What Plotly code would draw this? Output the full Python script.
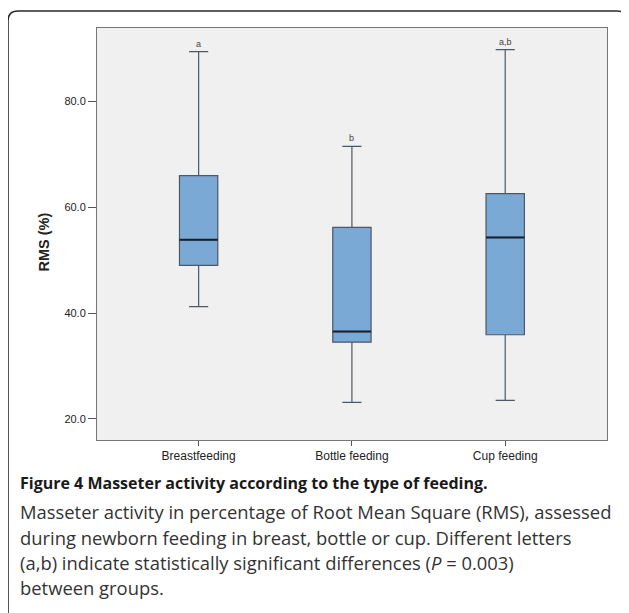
import plotly.graph_objects as go

categories = ["Breastfeeding", "Bottle feeding", "Cup feeding"]
lower_whisker = [41.2, 23.1, 23.5]
q1 = [49.0, 34.5, 35.9]
median = [53.85, 36.5, 54.3]
q3 = [66.0, 56.2, 62.6]
upper_whisker = [89.45, 71.5, 89.8]
letters = ["a", "b", "a,b"]
y_ticks = [20, 40, 60, 80]
y_title = "RMS (%)"

caption_title = "Figure 4 Masseter activity according to the type of feeding."
caption_lines = [
    "Masseter activity in percentage of Root Mean Square (RMS), assessed",
    "during newborn feeding in breast, bottle or cup. Different letters",
    "(a,b) indicate statistically significant differences (<i>P</i> = 0.003)",
    "between groups.",
]

OFF = 8  # page body margin
W, H = 629 - OFF, 613 - OFF
L, T = 97 - OFF, 28 - OFF
R = W - (607 - OFF)
B = H - (440 - OFF)
pw, ph = W - L - R, H - T - B

def px_x(x):
    return (x - OFF - L) / pw

def px_y(y):
    return 1 - (y - OFF - T) / ph

xpos = list(range(len(categories)))
box_w = 0.25

fig = go.Figure()
fig.add_trace(go.Box(
    x=xpos,
    q1=q1, median=median, q3=q3,
    lowerfence=lower_whisker, upperfence=upper_whisker,
    width=box_w,
    whiskerwidth=0.5,
    fillcolor="#7BA9D6",
    line=dict(color="#4d5866", width=1.2),
    boxpoints=False,
    hoverinfo="skip",
    showlegend=False,
))

shapes = []
for i, m in enumerate(median):
    shapes.append(dict(type="line", xref="x", yref="y",
                       x0=xpos[i] - box_w / 2, x1=xpos[i] + box_w / 2,
                       y0=m, y1=m, line=dict(color="#16202c", width=2)))

# outer rounded frame (screen pixels converted to paper coords)
r = 10
x0p, x1p, y0p, y1p = 8, 627, 11, 625
path = (f"M {px_x(x0p)} {px_y(y1p)} L {px_x(x0p)} {px_y(y0p + r)} "
        f"Q {px_x(x0p)} {px_y(y0p)} {px_x(x0p + r)} {px_y(y0p)} "
        f"L {px_x(x1p - r)} {px_y(y0p)} "
        f"Q {px_x(x1p)} {px_y(y0p)} {px_x(x1p)} {px_y(y0p + r)} "
        f"L {px_x(x1p)} {px_y(y1p)}")
shapes.append(dict(type="path", xref="paper", yref="paper", path=path,
                   line=dict(color="#2a2a2a", width=1.6)))

annotations = []
for i, (lab, u) in enumerate(zip(letters, upper_whisker)):
    annotations.append(dict(x=xpos[i], y=u, xref="x", yref="y", text=lab,
                            showarrow=False, yanchor="bottom", yshift=1,
                            font=dict(family="Liberation Sans, Arial", size=9, color="#444444")))

annotations.append(dict(x=px_x(43), y=px_y(242.5), xref="paper", yref="paper",
                        text="<b>" + y_title + "</b>", textangle=-90, showarrow=False,
                        xanchor="center", yanchor="middle",
                        font=dict(family="Liberation Sans, Arial", size=14.5, color="#222222")))

cap_font = "Open Sans, Noto Sans, sans-serif"
annotations.append(dict(x=px_x(18), y=px_y(483), xref="paper", yref="paper",
                        text="<b>" + caption_title + "</b>", showarrow=False,
                        xanchor="left", yanchor="middle",
                        font=dict(family=cap_font, size=16, color="#1a1a1a")))
for k, line in enumerate(caption_lines):
    annotations.append(dict(x=px_x(18), y=px_y(512 + k * 25.3), xref="paper", yref="paper",
                            text=line, showarrow=False, xanchor="left", yanchor="middle",
                            font=dict(family=cap_font, size=18.4, color="#333333")))

fig.update_layout(
    width=W, height=H,
    margin=dict(l=L, r=R, t=T, b=B, autoexpand=False),
    paper_bgcolor="white",
    plot_bgcolor="#f0f0f0",
    shapes=shapes,
    annotations=annotations,
    font=dict(family="Liberation Sans, Arial", color="#222222"),
    xaxis=dict(
        range=[-0.663, 2.664],
        tickvals=xpos, ticktext=categories,
        ticks="outside", ticklen=5, tickcolor="#555555",
        showline=True, linecolor="#777777", linewidth=1, mirror=True,
        showgrid=False, zeroline=False,
        tickfont=dict(size=12, color="#222222"),
    ),
    yaxis=dict(
        range=[16.0, 93.9],
        tickvals=y_ticks, tickformat=".1f",
        ticks="outside", ticklen=8, tickcolor="#555555",
        showline=True, linecolor="#777777", linewidth=1, mirror=True,
        showgrid=False, zeroline=False,
        tickfont=dict(size=11, color="#222222"),
    ),
)

fig.write_html("out.html")
